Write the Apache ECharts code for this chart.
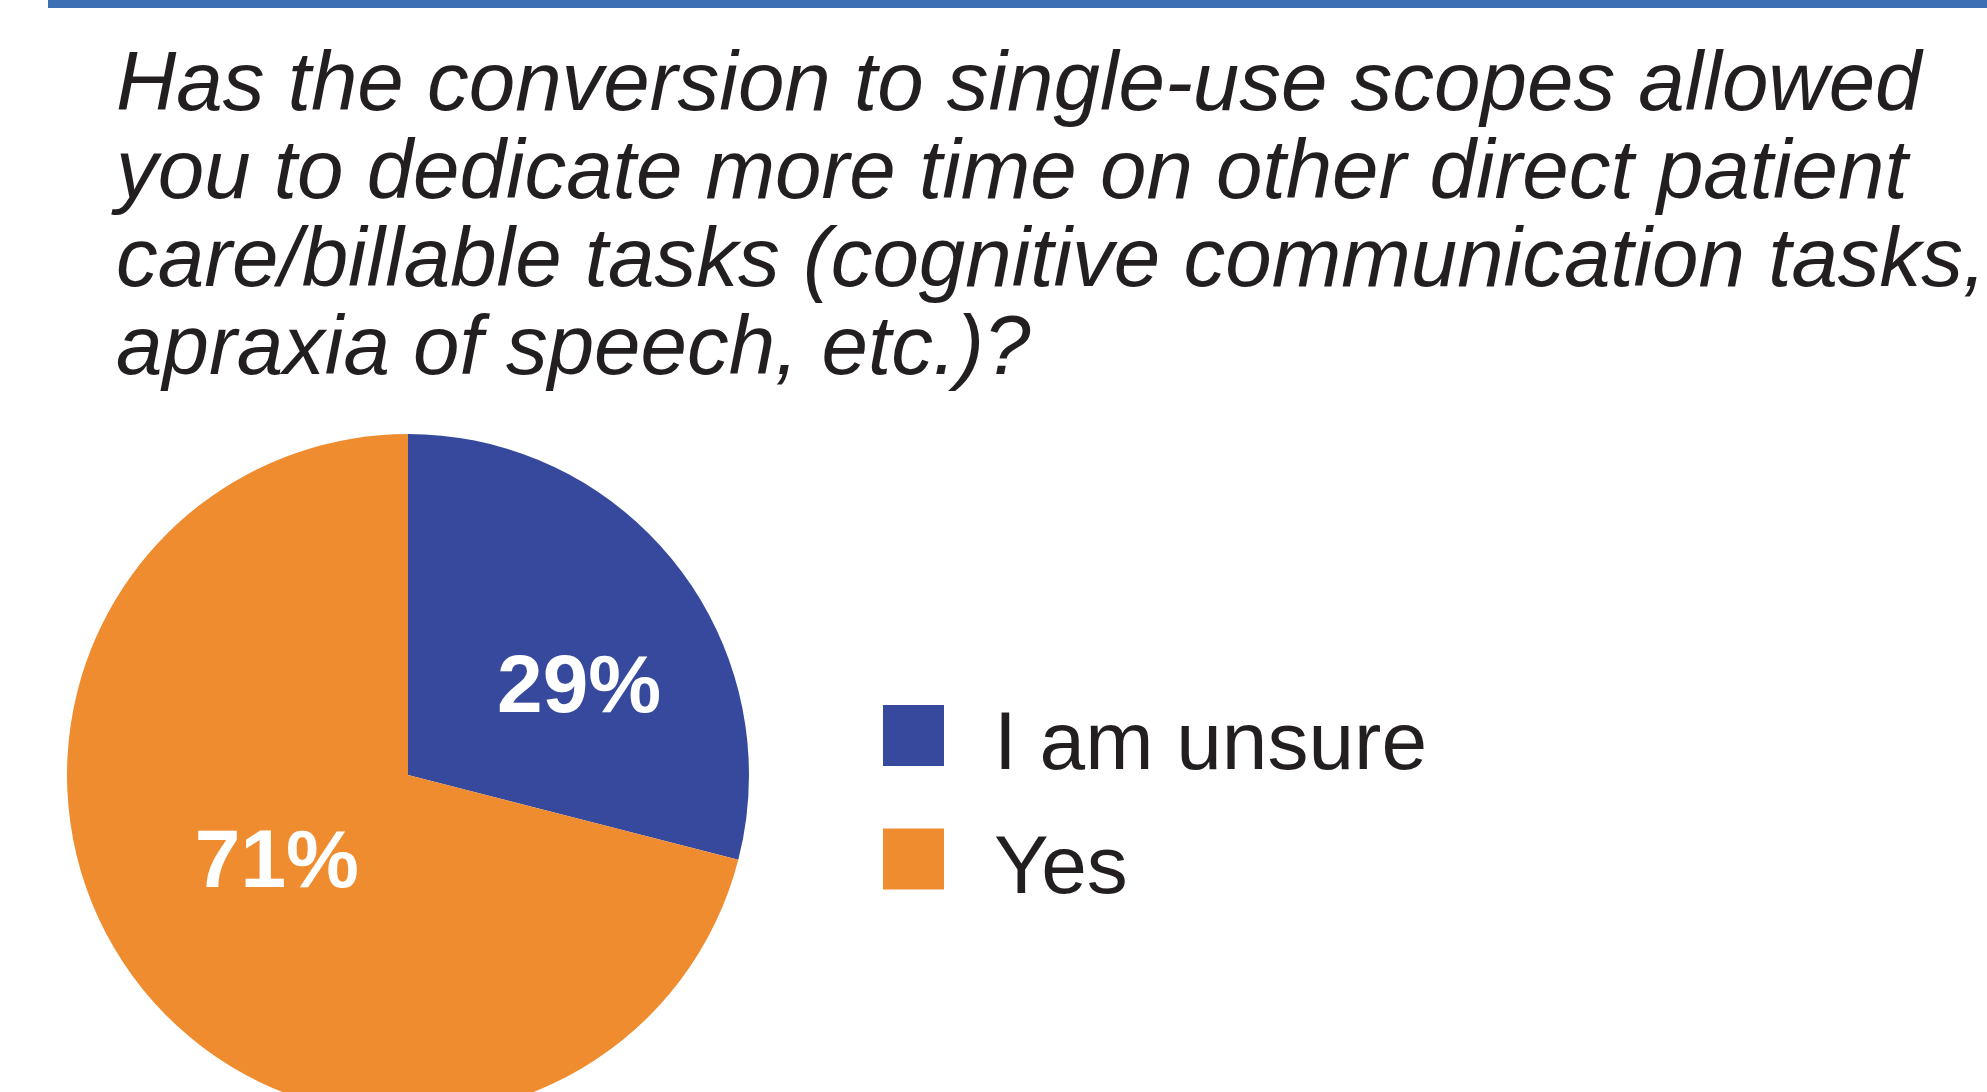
<!DOCTYPE html>
<html>
<head>
    <meta charset="UTF-8">
    <title>Single-use scopes</title>
    <script src="https://cdn.jsdelivr.net/npm/echarts@6/dist/echarts.min.js"></script>
    <style>
        html, body { margin: 0; padding: 0; background: #fff; }
        #chart { width: 1987px; height: 1092px; }
    </style>
</head>
<body>
    <div id="chart"></div>
    <script>
        var questionLines = [
            'Has the conversion to single-use scopes allowed',
            'you to dedicate more time on other direct patient',
            'care/billable tasks (cognitive communication tasks,',
            'apraxia of speech, etc.)?'
        ];
        var answers = ['I am unsure', 'Yes'];
        var shares = [29, 71];
        var sliceColors = ['#36499c', '#f08c30'];
        // label nudges so the percentages sit where the original puts them
        var labelOffsets = [[34, 21], [6, -17]];

        var chart = echarts.init(document.getElementById('chart'));

        var pieData = [];
        for (var i = 0; i < answers.length; i++) {
            pieData.push({
                name: answers[i],
                value: shares[i],
                itemStyle: { color: sliceColors[i] },
                label: { offset: labelOffsets[i] }
            });
        }

        var option = {
            animation: false,
            backgroundColor: '#ffffff',
            title: {
                text: questionLines.join('\n'),
                left: 111,
                top: 38,
                textStyle: {
                    fontFamily: 'Liberation Sans, Arial, sans-serif',
                    fontStyle: 'italic',
                    fontWeight: 'normal',
                    fontSize: 83.5,
                    lineHeight: 88,
                    color: '#231f20'
                }
            },
            graphic: [{
                type: 'rect',
                shape: { x: 48, y: 0, width: 1939, height: 8 },
                style: { fill: '#3d6fb5' },
                silent: true
            }],
            legend: {
                orient: 'vertical',
                left: 878,
                top: 700,
                icon: 'rect',
                itemWidth: 61,
                itemHeight: 61,
                itemGap: 41,
                selectedMode: false,
                data: answers,
                formatter: '{n|{name}}',
                textStyle: {
                    rich: {
                        n: {
                            fontFamily: 'Liberation Sans, Arial, sans-serif',
                            fontSize: 82,
                            color: '#231f20',
                            padding: [22, 0, 0, 45]
                        }
                    }
                }
            },
            series: [{
                type: 'pie',
                center: [408, 775],
                radius: 341,
                startAngle: 90,
                clockwise: true,
                silent: true,
                label: {
                    show: true,
                    position: 'inside',
                    formatter: '{c}%',
                    color: '#ffffff',
                    fontFamily: 'Liberation Sans, Arial, sans-serif',
                    fontWeight: 'bold',
                    fontSize: 82
                },
                labelLine: { show: false },
                itemStyle: { borderWidth: 0 },
                emphasis: { disabled: true },
                data: pieData
            }]
        };

        chart.setOption(option);
    </script>
</body>
</html>
